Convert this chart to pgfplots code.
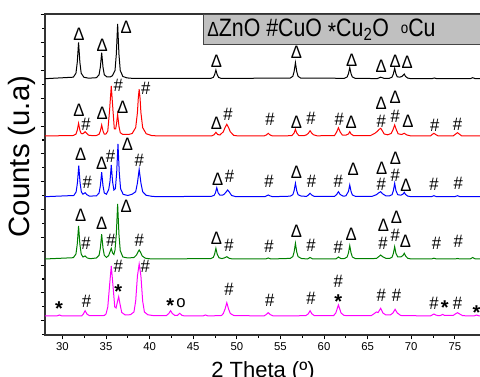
\documentclass[border=0pt]{standalone}
\usepackage{pgfplots}
\pgfplotsset{compat=1.18}
\usepackage{graphicx}
\usepackage{fontspec}
\setmainfont{Liberation Sans}
\usetikzlibrary{calc}
\definecolor{mgreen}{RGB}{0,128,0}
\definecolor{mmag}{RGB}{255,0,255}
\definecolor{legfill}{RGB}{192,192,192}
\definecolor{legdraw}{RGB}{70,70,70}
\newcommand{\annfont}{\fontsize{12.5}{12.5}\selectfont}
\newcommand{\Da}[2]{\node[font=\annfont,inner sep=0pt] at (axis cs:#1,#2) {\scalebox{1}[1.08]{Δ}};}
\newcommand{\Ha}[2]{\node[font=\annfont,inner sep=0pt] at (axis cs:#1,#2) {\scalebox{1}[1.08]{\#}};}
\newcommand{\Sa}[2]{\node[font=\fontsize{15}{15}\selectfont\bfseries,inner sep=0pt,yshift=-3pt] at (axis cs:#1,#2) {*};}
\newcommand{\Oa}[2]{\node[font=\annfont,inner sep=0pt] at (axis cs:#1,#2) {o};}
\begin{document}
\begin{tikzpicture}
\begin{axis}[name=ax, at={(0,0)}, anchor=south west,
  scale only axis, width=327pt, height=240.75pt,
  xmin=28, xmax=78, ymin=0, ymax=321,
  clip mode=individual,
  xtick={30,35,...,75}, minor x tick num=1,
  ytick={14.3,42.1,69.9,97.7,125.5,153.3,181.1,208.9,236.7,264.5,292.3,320.1},
  minor ytick={0.4,28.2,56,83.8,111.6,139.4,167.2,195,222.8,250.6,278.4,306.2},
  yticklabels=\empty,
  xtick pos=bottom, ytick pos=left,
  tick align=outside,
  major tick length=3.2pt, minor tick length=2pt,
  every tick/.style={black, line width=0.8pt},
  axis line style={black!80, line width=0.9pt},
  /pgf/number format/assume math mode=true,
  ticklabel style={font=\fontsize{8.5}{9}\selectfont},
  xticklabel style={yshift=1pt},
  xlabel={2 Theta (º)},
  xlabel style={font=\fontsize{16.5}{16.5}\selectfont, at={(axis description cs:0.5,-0.083)}, anchor=north, inner sep=0pt},
  ylabel={Counts (u.a)},
  ylabel style={font=\fontsize{22}{22}\selectfont, at={(axis description cs:-0.054,0.556)}, anchor=center, inner sep=0pt},
]
% black
\addplot[black, line width=0.75pt] table[x=x, y expr=\thisrow{y}+256.3] {
x y
28.0 0
31.25 1.5
31.55 5.5
31.70 16.4
31.85 36.4
32.00 16.4
32.15 5.5
32.45 1.5
33.0 0.5
33.9 1.0
34.2 3.9
34.35 11.7
34.5 26
34.65 11.7
34.8 3.9
35.1 1.8
35.5 1.8
35.73 3.0
36.03 8.2
36.18 24.6
36.33 54.7
36.48 24.6
36.63 8.2
36.93 2.2
37.4 0.8
38.2 0.2
47.0 0.3
47.3 1.3
47.45 3.9
47.6 8.7
47.75 3.9
47.9 1.3
48.2 0.3
56.12 0.6
56.42 2.4
56.57 7.2
56.72 16
56.87 7.2
57.02 2.4
57.32 0.6
62.35 0.4
62.65 1.7
62.8 5
62.95 11
63.1 5
63.25 1.7
63.55 0.4
66.1 0.1
66.5 1.5
66.9 0.3
67.5 0.4
67.8 1.6
67.95 4.7
68.1 10.4
68.25 4.7
68.4 1.8
68.7 1.6
68.95 2.3
69.2 4.7
69.35 2.2
69.6 0.6
70.0 0
72.35 0
72.65 0.7
72.95 0
76.75 0
77.05 1
77.35 0
78 0
};
% red
\addplot[red, line width=0.75pt] table[x=x, y expr=\thisrow{y}+199] {
x y
28 0
31.25 0.5
31.55 1.9
31.7 5.7
31.85 12.7
32.0 5.7
32.15 2.5
32.3 2.2
32.45 3.0
32.6 4.3
32.75 3.0
33.0 0.8
33.5 0.3
33.9 0.5
34.2 1.7
34.35 5
34.5 11
34.65 5
34.8 1.8
35.0 2.0
35.2 5
35.4 25
35.6 50
35.8 25
35.95 7
36.1 7
36.2 12
36.33 21.7
36.48 9.8
36.63 3.3
36.93 1.5
37.6 1.5
38.0 2.5
38.4 8.4
38.6 23.4
38.7 38
38.8 46.7
38.9 38
39.0 23.4
39.2 8.4
39.6 2.3
40.2 0.5
41 0
47.1 0
47.4 1.3
47.6 3.7
47.8 1.5
48.05 1
48.45 4.2
48.65 8.5
48.85 11.7
49.05 8.5
49.25 4.2
49.65 0.6
50.2 0
53.1 0
53.4 1.1
53.6 2.7
53.8 1.1
54.1 0
56.3 0.3
56.57 3
56.72 6.7
56.87 3
57.1 0.5
57.7 0.3
58.0 1.2
58.2 2.7
58.4 5.3
58.6 2.7
58.8 1.2
59.2 0.2
61.2 0.4
61.45 4
61.65 8.3
61.85 4
62.1 1
62.5 0.8
62.8 2
62.95 4.3
63.1 2
63.4 0.3
65.3 0.3
65.8 2.5
66.1 4.5
66.3 6.5
66.5 7.7
66.7 5
66.9 2
67.3 1.2
67.7 2.5
67.9 6
68.1 11
68.3 6
68.5 2.2
68.9 1.5
69.2 2.7
69.5 1
70 0
72.2 0
72.4 1.5
72.6 2.7
72.8 1.5
73.1 0
74.8 0
75.1 2
75.3 3.3
75.5 2
75.8 0
78 0
};
% blue
\addplot[blue, line width=0.75pt] table[x=x, y expr=\thisrow{y}+138.3] {
x y
28 0
31.3 1.2
31.57 4.7
31.72 14
31.87 31
32.02 14
32.17 4.7
32.35 2.5
32.6 4
32.8 2
33.1 0.6
33.9 0.8
34.2 3.7
34.35 11
34.5 24.4
34.65 11
34.8 3.7
35.05 2.5
35.3 7
35.45 15
35.6 31.7
35.75 15
35.9 6.7
36.07 8
36.22 24
36.37 52.7
36.52 23.7
36.67 7.9
36.97 2.3
37.5 1.2
38.0 2.5
38.4 5
38.6 13.7
38.8 27.4
39.0 13.7
39.2 5
39.6 1.4
40.3 0.3
41 0
47.1 0.4
47.4 1.4
47.55 4
47.7 9
47.85 4
48.05 1.5
48.35 1.5
48.55 2.5
48.75 4.5
48.95 6.7
49.15 4.5
49.4 1.2
49.9 0
53.2 0
53.4 0.8
53.6 1.7
53.8 0.8
54.1 0
56.12 0.5
56.42 2
56.57 6
56.72 13.4
56.87 6
57.02 2
57.4 0.5
58.0 0.4
58.2 1.6
58.4 3.4
58.6 1.6
58.9 0.2
61.2 0.3
61.45 2.2
61.65 5
61.85 2.2
62.2 0.5
62.5 0.8
62.8 5.2
62.95 11.7
63.1 5.2
63.25 1.8
63.6 0.3
65.5 0.3
66.0 2
66.3 4
66.5 5
66.7 3
67.1 0.8
67.5 0.8
67.8 2
67.95 6
68.1 13.4
68.25 6
68.45 2
68.8 1.5
69.05 2.5
69.2 4.4
69.35 2.2
69.6 0.6
70 0
72.3 0
72.6 1
72.9 0
75.0 0
75.3 1
75.6 0
78 0
};
% green
\addplot[mgreen, line width=0.75pt] table[x=x, y expr=\thisrow{y}+76] {
x y
28 0
31.25 1.3
31.55 5
31.7 14.9
31.85 33
32.0 14.9
32.15 5
32.35 2
32.6 3
32.85 1
33.2 0.3
33.9 1
34.2 3.7
34.35 11
34.5 24.7
34.65 11
34.8 3.7
35.05 1.5
35.3 3.5
35.45 7
35.6 10.7
35.75 6
35.9 4.5
36.03 9
36.18 24.8
36.33 55
36.48 24.8
36.63 8.3
36.93 2
37.5 1
38.2 1.5
38.5 4
38.65 6.8
38.8 9
38.95 6.8
39.15 3
39.5 0.8
40.2 0
47.0 0.4
47.3 1.6
47.45 4.8
47.6 10.7
47.75 4.8
47.95 1.2
48.3 0.4
48.6 1.2
48.85 2.3
49.1 0.8
49.5 0
53.3 0
53.6 1
53.9 0
56.12 0.6
56.42 2.4
56.57 7
56.72 15.7
56.87 7
57.02 2.4
57.4 0.5
58.1 0
58.4 1.5
58.7 0
61.35 0
61.65 2
61.95 0.3
62.35 0.5
62.65 2
62.8 6
62.95 13.3
63.1 6
63.25 2
63.6 0.4
66.0 0.5
66.3 2.5
66.5 4
66.7 2.4
67.1 0.6
67.5 0.5
67.8 1.8
67.95 5.5
68.1 12.3
68.25 5.5
68.45 2
68.8 2
69.05 3.5
69.2 5.7
69.35 3
69.6 0.7
70.0 0
72.3 0
72.6 0.8
72.9 0
75.0 0
75.3 0.5
75.6 0
76.75 0
77.05 1.5
77.35 0
78 0
};
% magenta
\addplot[mmag, line width=0.75pt] table[x=x, y expr=\thisrow{y}+19] {
x y
28 0
29.35 0
29.65 1
29.95 0
32.2 0
32.4 2
32.6 5.3
32.8 2
33.1 0.3
34.8 0.5
35.0 2
35.2 9
35.4 30
35.6 50
35.8 30
36.0 9
36.15 8
36.3 14
36.45 19.3
36.6 12
36.8 3.5
37.2 1
37.8 1.3
38.2 4
38.4 15
38.6 40
38.8 52
39.0 40
39.2 15
39.4 4
39.8 1.2
40.5 0.3
41.9 0.3
42.2 2.5
42.4 5.3
42.6 2.5
42.9 0.5
43.2 0.7
43.45 2.7
43.7 0.7
44.0 0
46.1 0
46.4 1
46.7 0
48.25 0.5
48.45 2.5
48.65 7
48.85 13.3
49.05 7
49.25 2.5
49.65 0.5
53.1 0
53.35 1.3
53.6 3.3
53.85 1.3
54.2 0
57.9 0.3
58.2 2.2
58.4 5.3
58.6 2.2
58.9 0.3
61.1 0.4
61.35 3
61.5 7
61.65 11
61.8 7
61.95 3
62.3 0.5
65.4 0.3
65.7 2
66.0 4
66.2 3.5
66.5 7.7
66.75 3
67.1 1
67.6 1
67.9 3
68.15 6.7
68.4 3
68.8 0.5
72.2 0
72.4 1
72.6 2
72.8 1
73.1 0.3
73.35 0.5
73.6 1.5
73.85 0.5
74.8 0.5
75.05 2
75.3 3.3
75.55 2
75.9 0.3
77.2 0
77.5 1
77.8 0
78 0
};
% annotations black
\Da{31.88}{301}\Da{34.56}{290}\Da{37.3}{307.7}\Da{47.66}{273.3}\Da{56.84}{282.3}
\Da{63.18}{275}\Da{66.55}{269}\Da{68.17}{274}\Da{69.55}{272.3}
% red
\Da{31.88}{225}\Ha{32.7}{211}\Da{34.56}{221.7}\Ha{36.4}{250}\Da{36.9}{227.7}\Ha{39.56}{246.7}
\Da{47.66}{211.7}\Ha{49.0}{221}\Ha{53.8}{215.7}\Da{56.84}{212.3}\Ha{58.5}{216.7}\Ha{61.75}{215.7}
\Da{63.1}{212.3}\Da{66.55}{231.5}\Ha{66.55}{214}\Da{68.17}{238}\Ha{68.17}{219}\Da{69.63}{213.3}
\Ha{72.7}{210}\Ha{75.3}{211}
% blue
\Da{32.1}{181}\Ha{32.84}{152.7}\Da{34.5}{171.7}\Ha{35.5}{178.3}\Da{37.45}{191}\Ha{38.8}{174.3}
\Da{47.8}{155.7}\Ha{49.16}{158.3}\Ha{53.7}{153.3}\Da{56.84}{162.3}\Ha{58.57}{153.3}\Ha{61.64}{153.3}
\Da{63.33}{165.7}\Da{66.6}{167}\Ha{66.55}{150.7}\Da{68.2}{176.5}\Ha{68.17}{159.7}\Da{69.4}{150}
\Ha{72.6}{150.7}\Ha{75.4}{151.7}
% green
\Da{32.1}{120}\Ha{32.7}{91.7}\Da{34.5}{111.7}\Ha{35.56}{94.3}\Da{37.3}{128.3}\Ha{38.8}{94.3}
\Da{47.66}{96.7}\Ha{49.1}{89.3}\Ha{53.7}{89}\Da{56.84}{103.3}\Ha{58.5}{90}\Ha{61.64}{87.7}
\Da{63.1}{101}\Da{66.8}{109.5}\Ha{66.75}{92}\Da{68.3}{118}\Ha{68.17}{100}\Da{69.35}{94}
\Ha{72.9}{91.7}\Ha{75.4}{93.3}
% magenta
\Sa{29.6}{30}\Ha{32.76}{34}\Ha{36.4}{68.3}\Sa{36.4}{47.7}\Ha{39.5}{68.3}\Sa{42.36}{33.3}\Oa{43.6}{31.7}
\Ha{49.1}{45.7}\Ha{53.77}{35}\Ha{58.5}{36.7}\Ha{61.64}{53.3}\Sa{61.64}{37.7}\Ha{66.55}{40}\Ha{68.3}{40}
\Ha{72.6}{31.7}\Sa{73.85}{31}\Ha{75.3}{31.7}\Sa{77.5}{26.7}
% legend box
\draw[fill=legfill, draw=legdraw, line width=0.6pt] (rel axis cs:0.3624,1) rectangle (rel axis cs:1.02,0.905);
\node[anchor=west, inner sep=0pt, font=\fontsize{16}{16}\selectfont] at (rel axis cs:0.3716,0.952)
  {\scalebox{1}[1.18]{{\fontsize{13}{13}\selectfont Δ}ZnO \#CuO \raisebox{-2.5pt}{*}Cu\textsubscript{2}O\ \ \raisebox{1.5pt}{\fontsize{10}{10}\selectfont o}Cu}};
\end{axis}
\pgfresetboundingbox
\path[use as bounding box] ($(ax.south west)+(-33.75pt,-31.5pt)$) rectangle ($(ax.south west)+(326.25pt,251.25pt)$);
\end{tikzpicture}
\end{document}
